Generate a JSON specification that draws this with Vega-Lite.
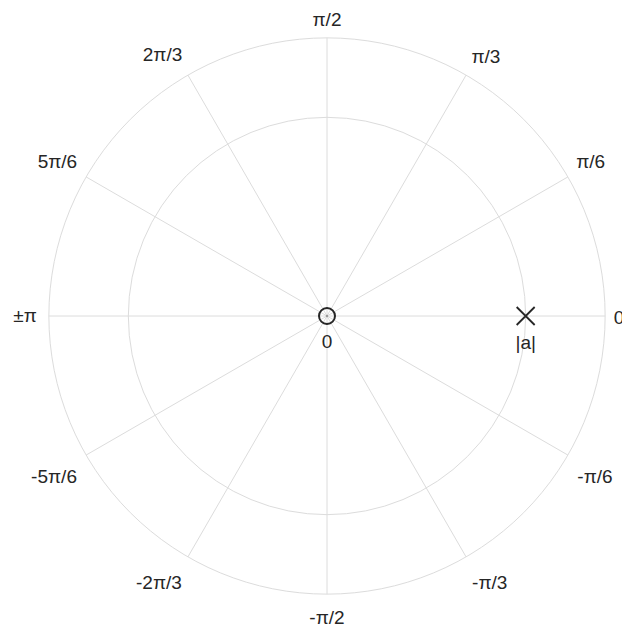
{
  "$schema": "https://vega.github.io/schema/vega-lite/v6.json",
  "width": 596,
  "height": 596,
  "autosize": {"type": "none"},
  "padding": {"left": 29, "top": 18, "right": 0, "bottom": 18},
  "background": "white",
  "config": {"view": {"stroke": null}},
  "layer": [
    {
      "data": {"values": [{"r": 1.0}, {"r": 1.4}]},
      "mark": {"type": "arc", "theta": 0, "theta2": 6.2832, "filled": false, "stroke": "#dcdcdc", "strokeWidth": 1},
      "encoding": {
        "radius": {"field": "r", "type": "quantitative", "stack": null, "scale": {"type": "linear", "domain": [0, 1.5], "range": [0, 298]}}
      }
    },
    {
      "data": {"values": [
        {"x": 1.4, "y": 0, "x2": -1.4, "y2": 0},
        {"x": 1.2124, "y": 0.7, "x2": -1.2124, "y2": -0.7},
        {"x": 0.7, "y": 1.2124, "x2": -0.7, "y2": -1.2124},
        {"x": 0, "y": 1.4, "x2": 0, "y2": -1.4},
        {"x": -0.7, "y": 1.2124, "x2": 0.7, "y2": -1.2124},
        {"x": -1.2124, "y": 0.7, "x2": 1.2124, "y2": -0.7}
      ]},
      "mark": {"type": "rule", "stroke": "#dcdcdc", "strokeWidth": 1},
      "encoding": {
        "x": {"field": "x", "type": "quantitative", "scale": {"domain": [-1.5, 1.5], "nice": false, "zero": false}, "axis": null},
        "y": {"field": "y", "type": "quantitative", "scale": {"domain": [-1.5, 1.5], "nice": false, "zero": false}, "axis": null},
        "x2": {"field": "x2"},
        "y2": {"field": "y2"}
      }
    },
    {
      "data": {"values": [
        {"x": 1.47, "y": -0.01, "label": "0"},
        {"x": 1.327, "y": 0.777, "label": "π/6"},
        {"x": 0.8, "y": 1.305, "label": "π/3"},
        {"x": 0, "y": 1.49, "label": "π/2"},
        {"x": -0.828, "y": 1.314, "label": "2π/3"},
        {"x": -1.357, "y": 0.777, "label": "5π/6"},
        {"x": -1.52, "y": 0, "label": "±π"},
        {"x": -1.374, "y": -0.809, "label": "-5π/6"},
        {"x": -0.846, "y": -1.342, "label": "-2π/3"},
        {"x": 0, "y": -1.522, "label": "-π/2"},
        {"x": 0.819, "y": -1.342, "label": "-π/3"},
        {"x": 1.349, "y": -0.809, "label": "-π/6"}
      ]},
      "mark": {"type": "text", "align": "center", "baseline": "middle", "font": "Liberation Sans", "fontSize": 19, "color": "#262626"},
      "encoding": {
        "x": {"field": "x", "type": "quantitative"},
        "y": {"field": "y", "type": "quantitative"},
        "text": {"field": "label"}
      }
    },
    {
      "data": {"values": [{"x": 0, "y": 0}]},
      "mark": {"type": "point", "shape": "circle", "size": 256, "filled": false, "stroke": "#262626", "strokeWidth": 2, "opacity": 1},
      "encoding": {
        "x": {"field": "x", "type": "quantitative"},
        "y": {"field": "y", "type": "quantitative"}
      }
    },
    {
      "data": {"values": [{"x": 0, "y": 0}]},
      "mark": {"type": "point", "shape": "circle", "size": 6, "filled": true, "color": "#999999", "opacity": 1},
      "encoding": {
        "x": {"field": "x", "type": "quantitative"},
        "y": {"field": "y", "type": "quantitative"}
      }
    },
    {
      "data": {"values": [{"x": 1.0, "y": 0}]},
      "mark": {"type": "point", "shape": "M-1,-1L1,1M1,-1L-1,1", "size": 324, "filled": false, "stroke": "#262626", "strokeWidth": 1.8, "opacity": 1},
      "encoding": {
        "x": {"field": "x", "type": "quantitative"},
        "y": {"field": "y", "type": "quantitative"}
      }
    },
    {
      "data": {"values": [{"x": 0, "y": -0.131, "label": "0"}, {"x": 1.0, "y": -0.136, "label": "|a|"}]},
      "mark": {"type": "text", "align": "center", "baseline": "middle", "font": "Liberation Sans", "fontSize": 19, "color": "#262626"},
      "encoding": {
        "x": {"field": "x", "type": "quantitative"},
        "y": {"field": "y", "type": "quantitative"},
        "text": {"field": "label"}
      }
    }
  ]
}
